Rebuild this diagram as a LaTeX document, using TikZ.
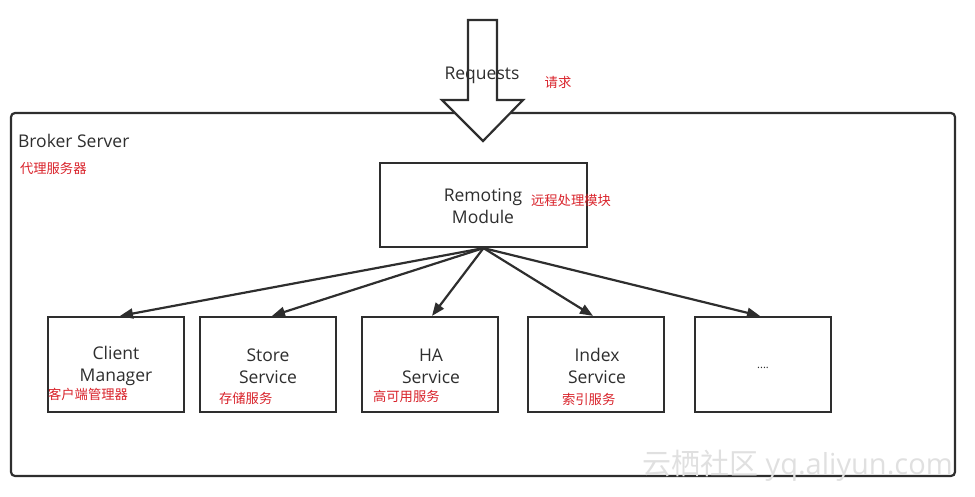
\documentclass[tikz,border=0pt]{standalone}
\usepackage{fontspec}
\setmainfont{Open Sans}
\newfontfamily\cjk{Noto Sans CJK SC}
\usetikzlibrary{arrows.meta,calc}
\definecolor{ink}{HTML}{2E2E2E}
\definecolor{lbl}{HTML}{D9232B}
\begin{document}
\begin{tikzpicture}[x=1pt,y=-1pt,
  line width=2.2pt,
  boxsty/.style={draw=ink, fill=white, minimum width=136pt, minimum height=95pt, inner sep=0pt},
  entext/.style={text=ink, font=\fontsize{17.5}{22}\selectfont, align=center, inner sep=0pt},
  cntext/.style={text=lbl, font=\cjk\fontsize{13.3}{15}\selectfont, inner sep=0pt},
  conn/.style={draw=ink, line width=2.2pt, -{Triangle[length=13pt,width=10pt]}},
  wmark/.style={text=black!12, font=\fontsize{29}{31}\selectfont, inner sep=0pt}
]
\useasboundingbox (0,0) rectangle (975,496);
% outer broker box
\draw[ink, rounded corners=4pt] (11,113) rectangle (955,476);
\node[entext, anchor=west] (broker) at (17,141) {Broker Server};
\node[cntext, anchor=west] (brokercn) at (19,168) {代理服务器};
% big request arrow
\draw[ink, fill=white, line join=miter] (468,20) -- (497,20) -- (497,100) -- (523,100) -- (483,141) -- (442,100) -- (468,100) -- cycle;
\node[entext] (req) at (482,75) {Requests};
\node[cntext] (reqcn) at (558,82) {请求};
% remoting module
\node[boxsty, minimum width=207pt, minimum height=84pt] (rm) at (483.5,205) {};
\node[entext] (rmtext) at (483,206) {Remoting\\Module};
\node[cntext, anchor=west] (rmcn) at (530,200) {远程处理模块};
% service boxes
\node[boxsty] (cm) at (116,364.5) {};
\node[boxsty] (ss) at (268,364.5) {};
\node[boxsty] (ha) at (430,364.5) {};
\node[boxsty] (is) at (596,364.5) {};
\node[boxsty] (dt) at (763,364.5) {};
\node[entext] (cmtext) at (116,366) {Client\\Manager};
\node[entext] (sstext) at (268,366) {Store\\Service};
\node[entext] (hatext) at (431,366) {HA\\Service};
\node[entext] (istext) at (597,366) {Index\\Service};
\node[text=ink, font=\fontsize{11}{12}\selectfont, inner sep=0pt] (dttext) at (763,368) {....};
\node[cntext, anchor=west] (cmcn) at (47,394) {客户端管理器};
\node[cntext, anchor=west] (sscn) at (218,398) {存储服务};
\node[cntext, anchor=west] (hacn) at (372,396) {高可用服务};
\node[cntext, anchor=west] (iscn) at (561,399) {索引服务};
% connectors
\draw[conn] (rm.south) -- ($(cm.north)+(4,0)$);
\draw[conn] (rm.south) -- ($(ss.north)+(4,0)$);
\draw[conn] (rm.south) -- ($(ha.north)+(2,0)$);
\draw[conn] (rm.south) -- ($(is.north)+(-3,0)$);
\draw[conn] (rm.south) -- ($(dt.north)+(-3,0)$);
% watermark
\node[wmark, anchor=west] (wm) at (641,466) {{\cjk 云栖社区} yq.aliyun.com};
\end{tikzpicture}
\end{document}
